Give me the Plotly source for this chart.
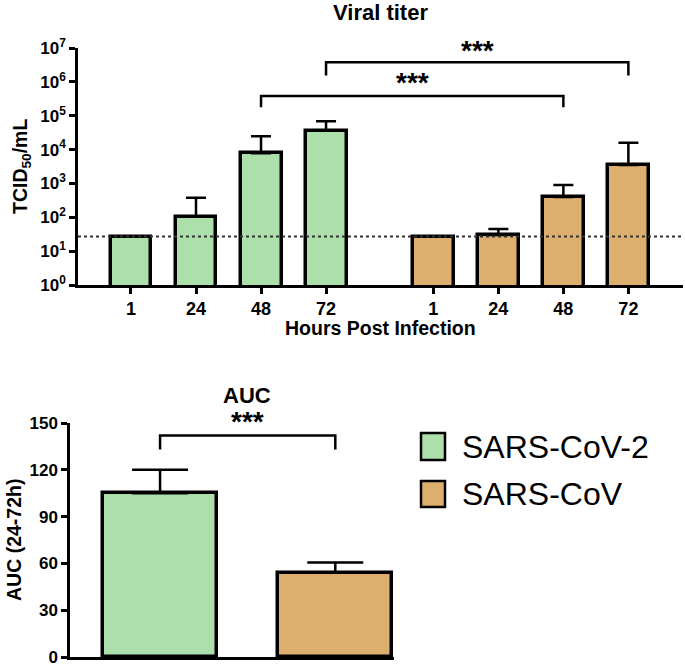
import plotly.graph_objects as go

# ---------------- data ----------------
hours = ["1", "24", "48", "72"]
series_names = ["SARS-CoV-2", "SARS-CoV"]
colors = ["#ACDFAA", "#DDAF6E"]
titer_cov2 = [27, 105, 7800, 36000]
titer_cov2_err = [0, 270, 17000, 33000]
titer_cov = [27, 30, 400, 3500]
titer_cov_err = [0, 15, 500, 12500]
lod = 27
y_tickvals = [1, 10, 100, 1000, 10000, 100000, 1000000, 10000000]
y_ticktext = ["10<sup>0</sup>", "10<sup>1</sup>", "10<sup>2</sup>", "10<sup>3</sup>",
              "10<sup>4</sup>", "10<sup>5</sup>", "10<sup>6</sup>", "10<sup>7</sup>"]
auc_values = [105, 54]
auc_err = [15, 6.5]
auc_ticks = [0, 30, 60, 90, 120, 150]

W, H = 685, 667
FONT = "Liberation Sans, Arial, sans-serif"
group_gap = 4.65
pos_cov2 = [i for i in range(len(hours))]
pos_cov = [group_gap + i for i in range(len(hours))]

def py(p):
    return 1 - p / H

def px(p):
    return p / W

fig = go.Figure()

bar_line = dict(color="black", width=3.5)
for name, pos, vals, errs, col in [
    (series_names[0], pos_cov2, titer_cov2, titer_cov2_err, colors[0]),
    (series_names[1], pos_cov, titer_cov, titer_cov_err, colors[1]),
]:
    fig.add_trace(go.Bar(
        x=pos, y=vals, width=0.63,
        marker=dict(color=col, line=bar_line),
        error_y=dict(type="data", symmetric=False, array=errs, arrayminus=[0] * len(errs),
                     color="black", thickness=2.5, width=10),
        xaxis="x", yaxis="y", showlegend=False, name=name,
    ))

# LOD dotted line
fig.add_trace(go.Scatter(x=[-0.815, 8.49], y=[lod, lod], mode="lines",
                         line=dict(color="#333333", width=2, dash="dot"),
                         xaxis="x", yaxis="y", showlegend=False, hoverinfo="skip"))

# brackets top panel (log values)
brackets_top = [
    (pos_cov2[2], pos_cov[2], 5.58, 5.25, 5.46),
    (pos_cov2[3], pos_cov[3], 6.58, 6.19, 6.42),
]
ann = []
for x0, x1, ytop, yend, ystar in brackets_top:
    fig.add_trace(go.Scatter(x=[x0, x0, x1, x1],
                             y=[10 ** yend, 10 ** ytop, 10 ** ytop, 10 ** yend],
                             mode="lines", line=dict(color="black", width=2.5),
                             xaxis="x", yaxis="y", showlegend=False, hoverinfo="skip",
                             cliponaxis=False))
    ann.append(dict(x=(x0 + x1) / 2, y=ystar, xref="x", yref="y", text="***",
                    showarrow=False, yanchor="bottom",
                    font=dict(family=FONT, size=28, color="black", weight="bold")))

# AUC panel
fig.add_trace(go.Bar(
    x=[0, 1], y=auc_values, width=0.651,
    marker=dict(color=colors, line=bar_line),
    error_y=dict(type="data", symmetric=False, array=auc_err, arrayminus=[0, 0],
                 color="black", thickness=2.5, width=28),
    xaxis="x2", yaxis="y2", showlegend=False,
))
fig.add_trace(go.Scatter(x=[0, 0, 1, 1], y=[133, 142, 142, 133], mode="lines",
                         line=dict(color="black", width=2.5),
                         xaxis="x2", yaxis="y2", showlegend=False, hoverinfo="skip"))
ann.append(dict(x=0.5, y=139.7, xref="x2", yref="y2", text="***", showarrow=False,
                yanchor="bottom", font=dict(family=FONT, size=28, color="black", weight="bold")))

# titles
tfont = dict(family=FONT, size=22, color="black", weight="bold")
afont = dict(family=FONT, size=19.5, color="black", weight="bold")
ann += [
    dict(x=px(380), y=py(12), xref="paper", yref="paper", text="Viral titer",
         showarrow=False, xanchor="center", yanchor="middle", font=tfont),
    dict(x=px(380), y=py(328), xref="paper", yref="paper", text="Hours Post Infection",
         showarrow=False, xanchor="center", yanchor="middle", font=afont),
    dict(x=px(22), y=py(167), xref="paper", yref="paper", text="TCID<sub>50</sub>/mL",
         showarrow=False, xanchor="center", yanchor="middle", textangle=-90, font=afont),
    dict(x=px(247), y=py(395), xref="paper", yref="paper", text="AUC",
         showarrow=False, xanchor="center", yanchor="middle", font=tfont),
    dict(x=px(14), y=py(540), xref="paper", yref="paper", text="AUC (24-72h)",
         showarrow=False, xanchor="center", yanchor="middle", textangle=-90, font=afont),
]

# manual legend
shapes = []
leg_rows = [(433, 460, 447), (481, 507, 494)]
for (y0, y1, yc), name, col in zip(leg_rows, series_names, colors):
    shapes.append(dict(type="rect", xref="paper", yref="paper",
                       x0=px(421), x1=px(445), y0=py(y1), y1=py(y0),
                       fillcolor=col, line=dict(color="black", width=2.5)))
    ann.append(dict(x=px(460), y=py(yc), xref="paper", yref="paper", text=name,
                    showarrow=False, xanchor="left", yanchor="middle",
                    font=dict(family=FONT, size=32, color="black")))

xtickfont = dict(family=FONT, size=18, color="black", weight="bold")
ytickfont = dict(family=FONT, size=17, color="black", weight="bold")
common = dict(showgrid=False, zeroline=False, automargin=False,
              showline=True, linewidth=2.5, linecolor="black")
fig.update_layout(
    template="none",
    width=W, height=H, margin=dict(l=0, r=0, t=0, b=0, pad=0, autoexpand=False),
    plot_bgcolor="white", paper_bgcolor="white", bargap=0,
    showlegend=False,
    xaxis=dict(domain=[px(78), px(683)], range=[-0.815, 8.49], anchor="y",
               tickvals=pos_cov2 + pos_cov, ticktext=hours + hours,
               ticks="outside", ticklen=6, tickwidth=2.5, tickcolor="black",
               tickfont=xtickfont, **common),
    yaxis=dict(domain=[py(285), py(48)], type="log", range=[0, 7], anchor="x",
               tickvals=y_tickvals, ticktext=y_ticktext,
               ticks="outside", ticklen=6, tickwidth=2.5, tickcolor="black",
               tickfont=ytickfont, **common),
    xaxis2=dict(domain=[px(70), px(394)], range=[-0.514, 1.335], anchor="y2",
                showticklabels=False, ticks="", **common),
    yaxis2=dict(domain=[py(657), py(423)], range=[0, 150], anchor="x2",
                tickvals=auc_ticks, ticks="outside", ticklen=6, tickwidth=2.5,
                tickcolor="black", tickfont=ytickfont, **common),
    annotations=ann, shapes=shapes,
)

fig.write_html("out.html", config={"displayModeBar": False},
               post_script="document.body.style.margin='0';")
